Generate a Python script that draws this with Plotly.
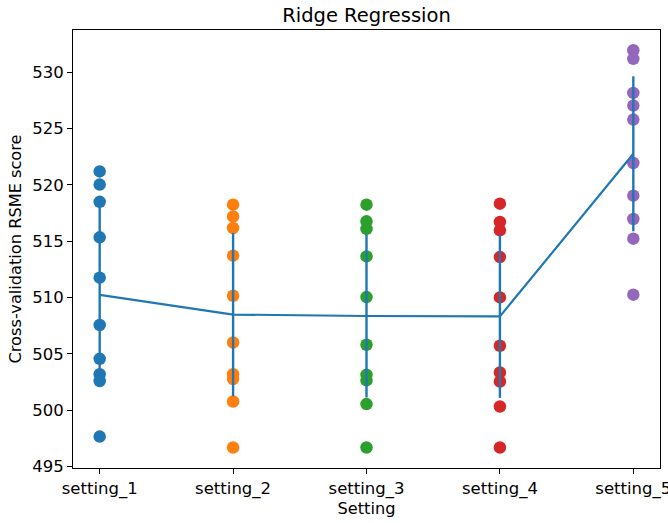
import numpy as np
import plotly.graph_objects as go

settings = ["setting_1", "setting_2", "setting_3", "setting_4", "setting_5"]
colors = ["#1f77b4", "#ff7f0e", "#2ca02c", "#d62728", "#9467bd"]

scores_1 = [521.2, 520.03, 518.5, 515.35, 511.77, 507.57, 504.57, 503.2, 502.6, 497.67]
scores_2 = [518.25, 517.2, 516.18, 513.72, 510.17, 506.02, 503.2, 502.77, 500.78, 496.7]
scores_3 = [518.25, 516.77, 516.1, 513.66, 510.05, 505.82, 503.15, 502.65, 500.55, 496.7]
scores_4 = [518.34, 516.71, 515.97, 513.6, 510.02, 505.73, 503.36, 502.56, 500.34, 496.7]
scores_5 = [531.95, 531.19, 528.17, 527.04, 525.8, 521.95, 519.05, 516.98, 515.23, 510.26]

all_scores = [scores_1, scores_2, scores_3, scores_4, scores_5]
means = [float(np.mean(s)) for s in all_scores]
stds = [float(np.std(s)) for s in all_scores]

font = "DejaVu Sans"
fig = go.Figure()
for i, (name, s) in enumerate(zip(settings, all_scores)):
    fig.add_trace(go.Scatter(
        x=[i] * len(s), y=s, mode="markers",
        marker=dict(color=colors[i], size=12.5, line=dict(width=0)),
        showlegend=False, hoverinfo="y"))

fig.add_trace(go.Scatter(
    x=list(range(len(settings))), y=means, mode="lines",
    line=dict(color="#1f77b4", width=2.2),
    error_y=dict(type="data", array=stds, visible=True, color="#1f77b4",
                 thickness=2.4, width=0),
    showlegend=False))

axis_common = dict(showline=True, linecolor="black", linewidth=1, mirror=True,
                   ticks="outside", ticklen=5, tickwidth=1, tickcolor="black",
                   showgrid=False, zeroline=False, automargin=False,
                   tickfont=dict(family=font, size=16.5, color="black"))

fig.update_layout(
    width=668, height=523,
    paper_bgcolor="white", plot_bgcolor="white",
    margin=dict(l=73, r=8, t=30, b=55),
    title=dict(text="Ridge Regression", x=0.5, xanchor="center", y=0.971, yanchor="middle",
               xref="paper",
               font=dict(family=font, size=19.5, color="black")),
    xaxis=dict(**axis_common, range=[-0.2, 4.2],
               tickvals=list(range(len(settings))), ticktext=settings,
               ticklabeloverflow="allow",
               title=dict(text="Setting", font=dict(family=font, size=16.2, color="black"), standoff=4)),
    yaxis=dict(**axis_common, range=[494.88, 533.75],
               tickvals=[495, 500, 505, 510, 515, 520, 525, 530],
               title=dict(text="Cross-validation RSME score", font=dict(family=font, size=16.2, color="black"), standoff=6)),
)

fig.write_html("out.html")
